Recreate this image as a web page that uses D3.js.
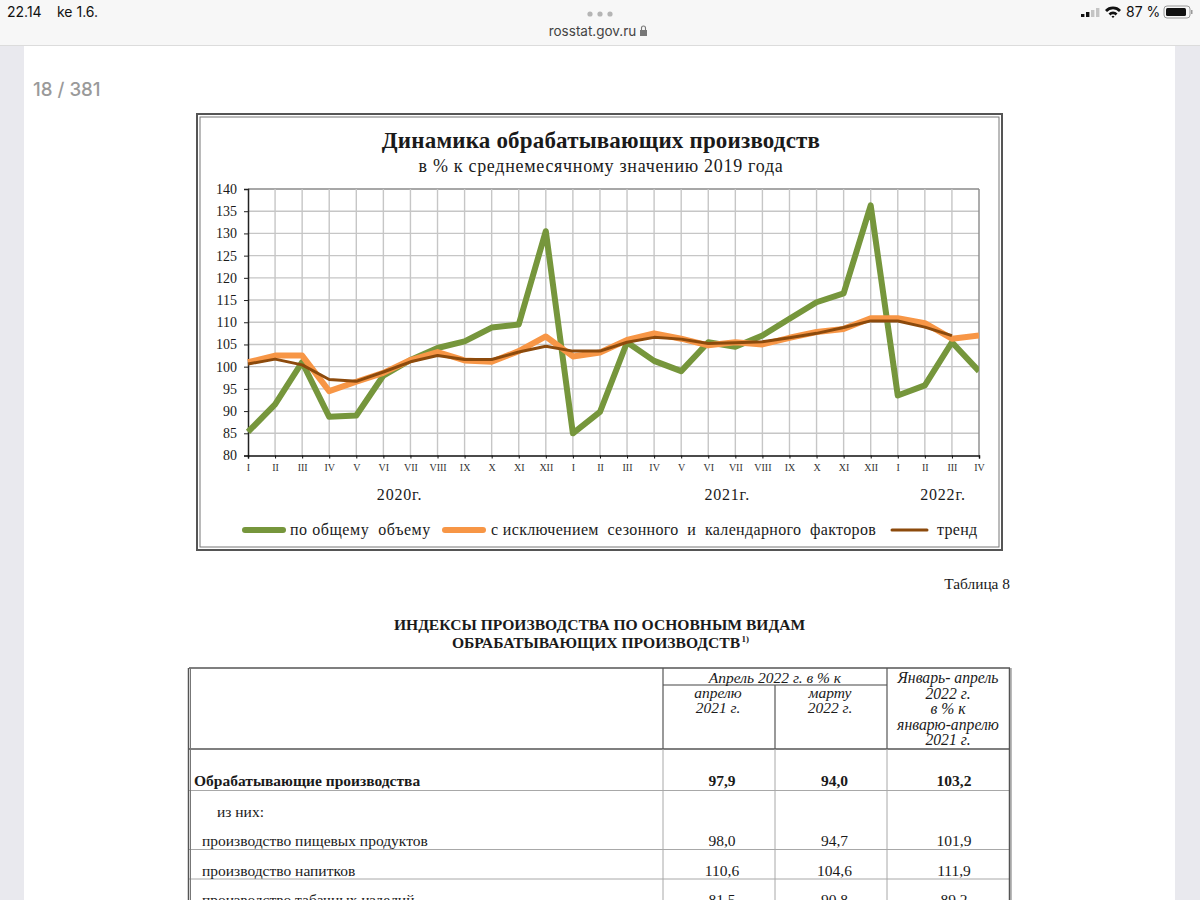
<!DOCTYPE html>
<html><head><meta charset="utf-8">
<script src="https://cdn.jsdelivr.net/npm/d3@7/dist/d3.min.js"></script>
<style>
html,body{margin:0;padding:0;background:#fff;overflow:hidden}
svg{display:block}
text{font-family:"Liberation Serif",serif;fill:#1a1a1a;white-space:pre}
.ui{font-family:"Inter","Liberation Sans",sans-serif}
</style></head><body><div id="c"></div>
<script>
const months=["I","II","III","IV","V","VI","VII","VIII","IX","X","XI","XII","I","II","III","IV","V","VI","VII","VIII","IX","X","XI","XII","I","II","III","IV"];
const total=[85.3,91.5,101,88.7,89,98,101.5,104.2,105.7,108.8,109.5,130.5,85,89.8,105.5,101.3,99,105.5,104.5,107,110.8,114.5,116.5,136.3,93.5,95.8,105.5,99];
const adjusted=[101,102.5,102.5,94.5,96.6,98.6,101.5,103.3,101.4,101.1,103.5,106.8,102.3,103.2,106,107.5,106.3,104.8,105.5,105,106.5,107.8,108.5,110.9,110.9,109.8,106.3,107];
const trend=[100.6,101.7,100.4,97.1,96.7,98.8,101.1,102.5,101.6,101.6,103.3,104.6,103.5,103.5,105.5,106.6,106.2,105.2,105.4,105.6,106.5,107.5,108.8,110.3,110.3,108.9,107];
const yTicks=d3.range(80,141,5);
const years=[["2020г.",5.6],["2021г.",17.7],["2022г.",25.67]];
const tableHead=["апрелю","2021 г.","марту","2022 г."];
const tableRows=[
 ["Обрабатывающие производства","97,9","94,0","103,2"],
 ["из них:","","",""],
 ["производство пищевых продуктов","98,0","94,7","101,9"],
 ["производство напитков","110,6","104,6","111,9"],
 ["производство табачных изделий","81,5","90,8","89,2"]];

const svg=d3.select("#c").append("svg").attr("width",1200).attr("height",900);
const T=(x,y,s,size,o={})=>{const t=svg.append("text").attr("x",x).attr("y",y).attr("font-size",size).attr("text-anchor",o.anchor||"start").text(s);
 if(o.bold)t.attr("font-weight","bold");if(o.italic)t.attr("font-style","italic");if(o.fill)t.style("fill",o.fill);if(o.cls)t.attr("class",o.cls);if(o.sp)t.attr("letter-spacing",o.sp);return t;};
const R=(x,y,w,h,f,s,sw)=>svg.append("rect").attr("x",x).attr("y",y).attr("width",w).attr("height",h).attr("fill",f||"none").attr("stroke",s||"none").attr("stroke-width",sw||0);
const L=(a,b,c,d,s,w)=>svg.append("line").attr("x1",a).attr("y1",b).attr("x2",c).attr("y2",d).attr("stroke",s).attr("stroke-width",w);

// page chrome
R(0,0,1200,900,"#e9e9ee");
R(24,46,1151,854,"#fff");
R(0,0,1200,45,"#f7f7f7");
L(0,45.5,1200,45.5,"#dcdcdc",1);
T(7,17,"22.14",14,{cls:"ui",fill:"#111"});
T(57,17,"ke 1.6.",14,{cls:"ui",fill:"#111"});
T(592.5,36,"rosstat.gov.ru",13.5,{cls:"ui",anchor:"middle",fill:"#444"});
[590,600,610].forEach(x=>svg.append("circle").attr("cx",x).attr("cy",14).attr("r",2.6).attr("fill","#b5b5b5"));
R(640,30,7,6,"#777");svg.append("path").attr("d","M641.5 30v-2a2 2 0 0 1 4 0v2").attr("fill","none").attr("stroke","#777").attr("stroke-width",1.1);
T(33,96,"18 / 381",18.7,{cls:"ui",fill:"#9a9a9a"}).attr("font-weight",500);
// status icons
[[1081,3],[1086,5],[1091,7],[1096,9]].forEach(([x,h],i)=>R(x,17-h,3.4,h,i<2?"#111":"#c4c4c4"));
svg.append("path").attr("d","M1105 10a11 11 0 0 1 16 0l-2 2a8 8 0 0 0-12 0zM1108.5 13.500a6 6 0 0 1 9 0l-2 2a3 3 0 0 0-5 0zM1111.500 16.500a2 2 0 0 1 3 0l-1.500 1.500z").attr("fill","#111");
T(1126,17,"87 %",14,{cls:"ui",fill:"#111"});
svg.append("rect").attr("x",1164).attr("y",6).attr("width",26).attr("height",12).attr("rx",3).attr("fill","none").attr("stroke","#999").attr("stroke-width",1);
svg.append("rect").attr("x",1166).attr("y",8).attr("width",20).attr("height",8).attr("rx",1.500).attr("fill","#111");
R(1191,10,1.500,4,"#999");

// chart frame
R(197,114,805,436,"#fff","#555",2);
R(200,117,799,430,"none","#777",1);

const x=d3.scalePoint().domain(d3.range(months.length)).range([248,979]);
const y=d3.scaleLinear().domain([80,140]).range([455.5,189]);
const yearX=d3.scaleLinear().domain([0,27]).range([248,979]);

T(601,148,"Динамика обрабатывающих производств",23,{anchor:"middle",bold:true,sp:0.18});
T(601,172,"в % к среднемесячному значению 2019 года",18,{anchor:"middle",sp:0.7});

// grid
const g=svg.append("g");
g.selectAll(".h").data(yTicks.slice(1)).join("line").attr("x1",248).attr("x2",979).attr("y1",d=>y(d)).attr("y2",d=>y(d)).attr("stroke",d=>d==140?"#8a8a8a":"#c6c6c6").attr("stroke-width",1.400);
g.selectAll(".v").data(d3.range(1,28)).join("line").attr("x1",d=>x(d)).attr("x2",d=>x(d)).attr("y1",189).attr("y2",455.5).attr("stroke",d=>d==27?"#8a8a8a":"#c6c6c6").attr("stroke-width",1.400);

// axes
const ay=svg.append("g").attr("transform","translate(248,0)").call(d3.axisLeft(y).tickValues(yTicks).tickSize(4).tickPadding(7));
ay.selectAll("text").attr("font-size",14).style("font-family",'"Liberation Serif",serif').style("fill","#1a1a1a");
ay.select(".domain").attr("stroke","#222").attr("stroke-width",1.500);
ay.selectAll(".tick line").attr("stroke","#222");
const ax=svg.append("g").attr("transform","translate(0,455.5)").call(d3.axisBottom(x).tickFormat(i=>months[i]).tickSize(3).tickPadding(5));
ax.selectAll("text").attr("font-size",10).style("font-family",'"Liberation Serif",serif').style("fill","#333");
ax.select(".domain").attr("stroke","#111").attr("stroke-width",1.500);
ax.selectAll(".tick line").attr("stroke","#111");

years.forEach(([s,i])=>T(yearX(i),500,s,16,{anchor:"middle",sp:0.8}));

// lines
const line=d3.line().x((d,i)=>x(i)).y(d=>y(d)).curve(d3.curveLinear);
svg.append("clipPath").attr("id","cp").append("rect").attr("x",244).attr("y",180).attr("width",735).attr("height",275.5);
const plot=svg.append("g").attr("clip-path","url(#cp)");
const draw=(d,c,w)=>plot.append("path").datum(d).attr("d",line).attr("fill","none").attr("stroke",c).attr("stroke-width",w).attr("stroke-linejoin","round");
draw(total,"#76963c",6);
draw(adjusted,"#f79646",6);
draw(trend,"#8c4a0c",3);

// legend
const leg=(a,b,c,w)=>L(a,530,b,530,c,w).attr("stroke-linecap","round");
leg(245,283,"#76963c",6);
T(290,535,"по общему  объему",16,{sp:0.55});
leg(445,483,"#f79646",6);
T(491,535,"с исключением  сезонного  и  календарного  факторов",16,{sp:0.34});
leg(892,927,"#8c4a0c",3);
T(937,535,"тренд",16,{sp:0.3});

// table heading
T(1010,589,"Таблица 8",15.4,{anchor:"end"});
T(599.5,630,"ИНДЕКСЫ ПРОИЗВОДСТВА ПО ОСНОВНЫМ ВИДАМ",15.6,{anchor:"middle",bold:true});
T(596,648,"ОБРАБАТЫВАЮЩИХ ПРОИЗВОДСТВ",15.6,{anchor:"middle",bold:true});
T(741.5,642,"1)",9,{bold:true});

// table
const col=[663,775,887];
const rowY=[749,790.5,849.5,879];
rowY.forEach((v,i)=>L(189,v,1010,v,i==0?"#555":"#a8a8a8",i==0?1.300:1));
L(663,685,887,685,"#444",1.200);
L(663,668,663,749,"#555",1.200);L(775,685,775,749,"#555",1.200);L(887,668,887,749,"#555",1.200);
col.forEach(v=>L(v,749,v,900,"#a8a8a8",1));
L(189,668,1010,668,"#555",1.500);
L(188.500,668,188.500,900,"#555",1.500);L(190.500,668,190.500,900,"#777",1);
L(1009.500,668,1009.500,900,"#555",1.500);L(1011,668,1011,900,"#777",1);
const hc={anchor:"middle",italic:true};
T(775,683,"Апрель 2022 г. в % к",15.5,hc);
T(718,698,tableHead[0],15.5,hc);T(718,713,tableHead[1],15.5,hc);
T(830,698,tableHead[2],15.5,hc);T(830,713,tableHead[3],15.5,hc);
["Январь- апрель","2022 г.","в % к","январю-апрелю","2021 г."].forEach((s,i)=>T(948,683+i*15.600,s,15.7,hc));
const rowBase=[786,817,846,876,905];
const rowX=[194,217,202,202,202];
const valX=[722,834.5,954];
tableRows.forEach((r,i)=>{
 T(rowX[i],rowBase[i],r[0],15.5,{bold:i==0});
 r.slice(1).forEach((v,j)=>{if(v)T(valX[j],rowBase[i],v,15.5,{anchor:"middle",bold:i==0});});
});
</script></body></html>
